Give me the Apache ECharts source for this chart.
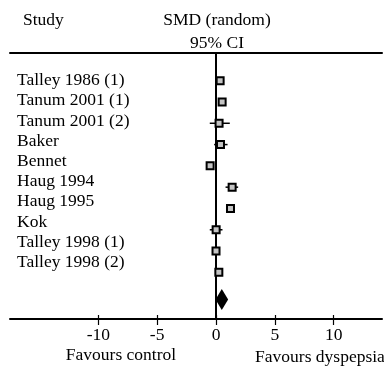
<!DOCTYPE html>
<html>
<head>
<meta charset="utf-8">
<script src="https://cdn.jsdelivr.net/npm/echarts@6/dist/echarts.min.js"></script>
<style>
  html, body { margin: 0; padding: 0; background: #fff; }
  #chart { width: 384px; height: 370px; }
</style>
</head>
<body>
<div id="chart"></div>
<script>
// Study names, standardised mean differences and 95% confidence limits
const studies = ['Talley 1986 (1)', 'Tanum 2001 (1)', 'Tanum 2001 (2)', 'Baker', 'Bennet',
  'Haug 1994', 'Haug 1995', 'Kok', 'Talley 1998 (1)', 'Talley 1998 (2)'];
const smd   = [0.35, 0.52, 0.26, 0.38, -0.50, 1.37, 1.23, 0.01, 0.00, 0.24];
const ciLow = [0.15, 0.30, -0.53, -0.16, -0.70, 0.81, 1.03, -0.53, -0.20, 0.04];
const ciHigh= [0.55, 0.74, 1.17, 0.98, -0.30, 1.88, 1.43, 0.55, 0.20, 0.44];
// Pooled random-effects estimate
const pooled = { est: 0.49, low: -0.04, high: 1.03 };
const tickValues = [-10, -5, 0, 5, 10];

const FONT = '"Liberation Serif", "DejaVu Serif", serif';
const FS = 17.5;
const POOLED_ROW = 10.28;

const rows = smd.map((v, i) => [v, i]);
const whiskers = smd.map((v, i) => [ciLow[i], ciHigh[i], i]);

const chart = echarts.init(document.getElementById('chart'), null, { renderer: 'canvas' });

const txt = (x, y, text, align) => ({
  type: 'text', x, y,
  style: { text, font: FS + 'px ' + FONT, fill: '#000', align, verticalAlign: 'middle' }
});

chart.setOption({
  animation: false,
  grid: [
    { left: 10, right: 2, top: 53, bottom: 51 },
    { left: 10, width: 1, top: 70.5, height: 202 }
  ],
  xAxis: [
    {
      gridIndex: 0, type: 'value', position: 'bottom', min: -17.5, max: 14.1,
      axisLine: { show: true, onZero: false, lineStyle: { color: '#000', width: 2 } },
      axisTick: { show: true, inside: false, length: 6, lineStyle: { color: '#000', width: 1.2 },
        customValues: tickValues },
      axisLabel: { show: true, color: '#000', fontFamily: FONT, fontSize: FS, margin: 7,
        customValues: tickValues, formatter: v => String(v) },
      splitLine: { show: false }
    },
    {
      gridIndex: 0, type: 'value', position: 'bottom', min: -17.5, max: 14.1,
      axisLine: { show: false, onZero: false },
      axisTick: { show: true, inside: true, length: 4, lineStyle: { color: '#000', width: 1.2 },
        customValues: tickValues },
      axisLabel: { show: false },
      splitLine: { show: false }
    },
    {
      gridIndex: 0, type: 'value', position: 'top', min: -17.5, max: 14.1,
      axisLine: { show: true, onZero: false, lineStyle: { color: '#000', width: 2 } },
      axisTick: { show: false }, axisLabel: { show: false }, splitLine: { show: false }
    },
    {
      gridIndex: 1, type: 'value', show: false, axisLine: { onZero: false }
    }
  ],
  yAxis: [
    {
      gridIndex: 0, type: 'value', inverse: true, min: -1.3, max: 11.19,
      axisLine: { show: true, onZero: true, onZeroAxisIndex: 0, lineStyle: { color: '#000', width: 2 } },
      axisTick: { show: false }, axisLabel: { show: false }, splitLine: { show: false }
    },
    {
      gridIndex: 1, type: 'category', data: studies, inverse: true, position: 'right',
      axisLine: { show: false, onZero: false }, axisTick: { show: false }, splitLine: { show: false },
      axisLabel: { show: true, interval: 0, color: '#000', fontFamily: FONT, fontSize: FS, margin: 6, align: 'left' }
    }
  ],
  series: [
    {
      // confidence interval whiskers
      type: 'custom', xAxisIndex: 0, yAxisIndex: 0, data: whiskers, z: 2,
      renderItem: (params, api) => {
        const a = api.coord([api.value(0), api.value(2)]);
        const b = api.coord([api.value(1), api.value(2)]);
        return { type: 'line', shape: { x1: a[0], y1: a[1], x2: b[0], y2: b[1] },
          style: { stroke: '#000', lineWidth: 1.5 } };
      }
    },
    {
      // study point estimates
      type: 'scatter', xAxisIndex: 0, yAxisIndex: 0, data: rows, z: 3,
      symbol: 'rect', symbolSize: 7,
      itemStyle: { color: '#c4c4c4', borderColor: '#000', borderWidth: 2, opacity: 1 }
    },
    {
      // pooled estimate diamond
      type: 'custom', xAxisIndex: 0, yAxisIndex: 0, z: 3,
      data: [[pooled.low, pooled.est, pooled.high, POOLED_ROW]],
      renderItem: (params, api) => {
        const y = api.value(3);
        const l = api.coord([api.value(0), y]);
        const c = api.coord([api.value(1), y]);
        const r = api.coord([api.value(2), y]);
        const h = 10.5;
        return { type: 'polygon',
          shape: { points: [[l[0], l[1]], [c[0], c[1] - h], [r[0], r[1]], [c[0], c[1] + h]] },
          style: { fill: '#000' } };
      }
    },
    {
      type: 'scatter', xAxisIndex: 3, yAxisIndex: 1, data: [], silent: true
    }
  ],
  graphic: [
    txt(23, 20, 'Study', 'left'),
    txt(217, 20, 'SMD (random)', 'center'),
    txt(217, 43, '95% CI', 'center'),
    txt(121, 355, 'Favours control', 'center'),
    txt(320, 357, 'Favours dyspepsia', 'center')
  ]
});
</script>
</body>
</html>
